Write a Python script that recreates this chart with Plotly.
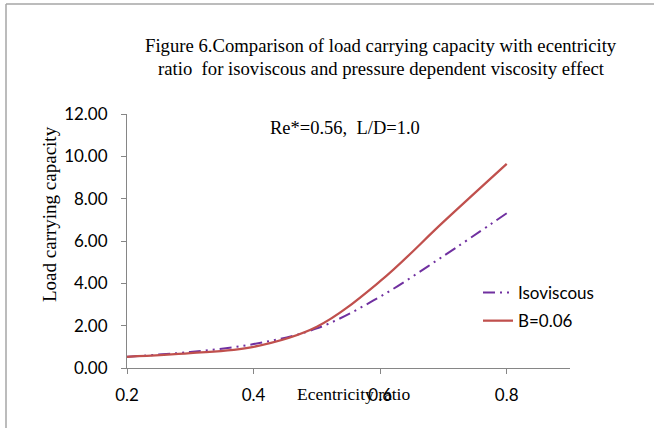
import plotly.graph_objects as go

ecc = [0.2, 0.3, 0.4, 0.5, 0.6, 0.7, 0.8]
iso = [0.53, 0.76, 1.13, 1.87, 3.37, 5.29, 7.31]
b006 = [0.53, 0.70, 1.00, 1.95, 4.10, 6.90, 9.64]
xticks = [0.2, 0.4, 0.6, 0.8]
xticktext = ["0.2", "0.4", "0.6", "0.8"]

W, H = 654, 428
L, R, T, B = 127, 84, 114, 60
pw, ph = W - L - R, H - T - B

def px(x):
    return (x - L) / pw

def py(y):
    return (H - B - y) / ph

sans = "Lato, Liberation Sans, sans-serif"
serif = "Liberation Serif, Times New Roman, serif"

fig = go.Figure()
fig.add_trace(go.Scatter(
    x=ecc, y=iso, mode="lines", name="Isoviscous", legendgroup="a",
    line=dict(color="#7030A0", width=2, shape="spline", smoothing=1,
              dash="12px,5px,2px,5px,2px,5px"),
))
fig.add_trace(go.Scatter(
    x=ecc, y=b006, mode="lines", name="B=0.06", legendgroup="b",
    line=dict(color="#C0504D", width=2.25, shape="spline", smoothing=1),
))

axis_col = "#868686"
fig.update_xaxes(
    range=[0.2, 0.9], tickvals=xticks, ticktext=xticktext,
    showline=True, linecolor=axis_col, linewidth=1,
    ticks="outside", ticklen=5, tickcolor=axis_col,
    showgrid=False, zeroline=False,
    tickfont=dict(family=sans, size=17, color="#000000"),
    ticklabelstandoff=7,
)
fig.update_yaxes(
    range=[0, 12], dtick=2, tickformat=".2f",
    showline=True, linecolor=axis_col, linewidth=1,
    ticks="outside", ticklen=5, tickcolor=axis_col,
    showgrid=False, zeroline=False,
    tickfont=dict(family=sans, size=17, color="#000000"),
    ticklabelstandoff=10,
)

annots = [
    dict(text="Figure 6.Comparison of load carrying capacity with ecentricity",
         x=px(381), y=py(45), size=18.7),
    dict(text="ratio  for isoviscous and pressure dependent viscosity effect",
         x=px(381), y=py(68), size=18.7),
    dict(text="Re*=0.56,  L/D=1.0", x=px(345), y=py(128), size=18.5),
    dict(text="Ecentricity ratio", x=px(353), y=py(394), size=17.5),
]
ann_list = []
for a in annots:
    ann_list.append(dict(
        text=a["text"], x=a["x"], y=a["y"], xref="paper", yref="paper",
        xanchor="center", yanchor="middle", showarrow=False,
        font=dict(family=serif, size=a["size"], color="#000000"),
    ))
ann_list.append(dict(
    text="Load carrying capacity", x=px(49), y=py(214), xref="paper", yref="paper",
    xanchor="center", yanchor="middle", showarrow=False, textangle=-90,
    font=dict(family=serif, size=19, color="#000000"),
))

frame_col = "#A6A6A6"
shapes = [
    dict(type="line", xref="paper", yref="paper", x0=px(6), x1=px(660),
         y0=py(4), y1=py(4), line=dict(color=frame_col, width=1.5)),
    dict(type="line", xref="paper", yref="paper", x0=px(6), x1=px(6),
         y0=py(4), y1=py(440), line=dict(color=frame_col, width=1.5)),
]

fig.update_layout(
    width=W, height=H,
    margin=dict(l=L, r=R, t=T, b=B, pad=0),
    paper_bgcolor="white", plot_bgcolor="white",
    showlegend=True,
    legend=dict(x=px(478), y=py(275), xanchor="left", yanchor="top",
                bgcolor="rgba(0,0,0,0)", borderwidth=0, tracegroupgap=3,
                font=dict(family=sans, size=17, color="#000000")),
    annotations=ann_list,
    shapes=shapes,
)

fig.write_html("out.html")
